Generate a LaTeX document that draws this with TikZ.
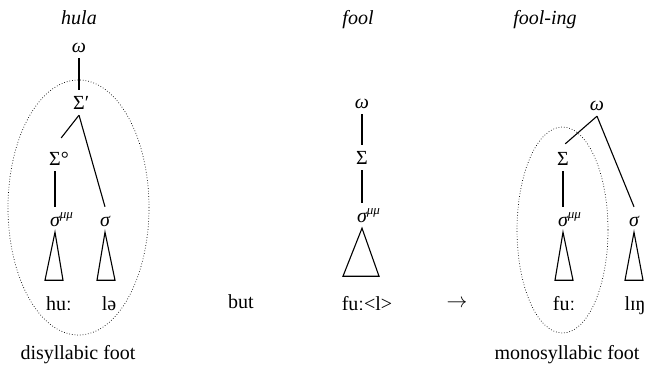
\documentclass[tikz,border=0pt]{standalone}
\usepackage{fontspec}
\setmainfont{Liberation Serif}
\newcommand{\mumu}{\rlap{\raisebox{9pt}{\fontsize{13}{13}\selectfont\itshape μμ}}}
\begin{document}
\begin{tikzpicture}[x=1pt,y=-1pt,
  lab/.style={anchor=base,inner sep=0pt,font=\fontsize{20}{24}\selectfont},
  tn/.style={anchor=base,inner sep=0pt,text height=20pt,text depth=5pt,font=\fontsize{20}{24}\selectfont},
  br/.style={line width=1.1pt},
  tri/.style={line width=1.1pt,line join=miter},
  foot/.style={dotted,line width=0.7pt}]
\useasboundingbox (0,0) rectangle (648,366);

% ---------- hula ----------
\node[lab,font=\fontsize{20}{24}\selectfont\itshape] (hula) at (79,25) {hula};
\node[tn] (w1) at (79,53) {\itshape ω};
\node[tn] (S1) at (79,110) {Σ\rlap{′}};
\node[tn] (So) at (55,166) {Σ\rlap{°}};
\node[tn] (s1a) at (55,227) {\itshape σ\mumu};
\node[tn] (s1b) at (105,227) {\itshape σ};
\draw[br] (w1.south) -- (S1.north);
\draw[br,shorten >=10pt] (S1.south) -- (So.north);
\draw[br] (S1.south) -- (s1b.north);
\draw[br] (So.south) -- (s1a.north);
\draw[tri] (s1a.south) -- ++(-10,48) -- ++(18,0) -- cycle;
\draw[tri] (s1b.south) -- ++(-8,48) -- ++(18,0) -- cycle;
\node[lab] (hu) at (59,310) {huː};
\node[lab] (le) at (109,310) {lə};
\draw[foot] (78.5,207.5) ellipse [x radius=70.5,y radius=127.5];
\node[lab] (dis) at (78,359) {disyllabic foot};

% ---------- but ----------
\node[lab] (but) at (241,308) {but};

% ---------- fool ----------
\node[lab,font=\fontsize{20}{24}\selectfont\itshape] (fool) at (358,25) {fool};
\node[tn] (w2) at (362,109) {\itshape ω};
\node[tn] (S2) at (362,165) {Σ};
\node[tn] (s2) at (362,223) {\itshape σ\mumu};
\draw[br] (w2.south) -- (S2.north);
\draw[br] (S2.south) -- (s2.north);
\draw[tri] (s2.south) -- ++(-19,48) -- ++(36,0) -- cycle;
\node[lab] (fu) at (367,310) {fuː<l>};

% ---------- arrow ----------
\node[lab] (arr) at (457,307) {$\rightarrow$};

% ---------- fool-ing ----------
\node[lab,font=\fontsize{20}{24}\selectfont\itshape] (fooling) at (545,25) {fool-ing};
\node[tn] (w3) at (597,111) {\itshape ω};
\node[tn] (S3) at (563,166) {Σ};
\node[tn] (s3a) at (563,227) {\itshape σ\mumu};
\node[tn] (s3b) at (634,227) {\itshape σ};
\draw[br,shorten >=3pt] (w3.south) -- (S3.north);
\draw[br] (w3.south) -- (s3b.north);
\draw[br] (S3.south) -- (s3a.north);
\draw[tri] (s3a.south) -- ++(-8,48) -- ++(18,0) -- cycle;
\draw[tri] (s3b.south) -- ++(-9,48) -- ++(18,0) -- cycle;
\node[lab] (fu2) at (564,310) {fuː};
\node[lab] (lin) at (635,310) {lɪŋ};
\draw[foot] (562.5,230) ellipse [x radius=45.5,y radius=103];
\node[lab] (mono) at (567,359) {monosyllabic foot};
\end{tikzpicture}
\end{document}
